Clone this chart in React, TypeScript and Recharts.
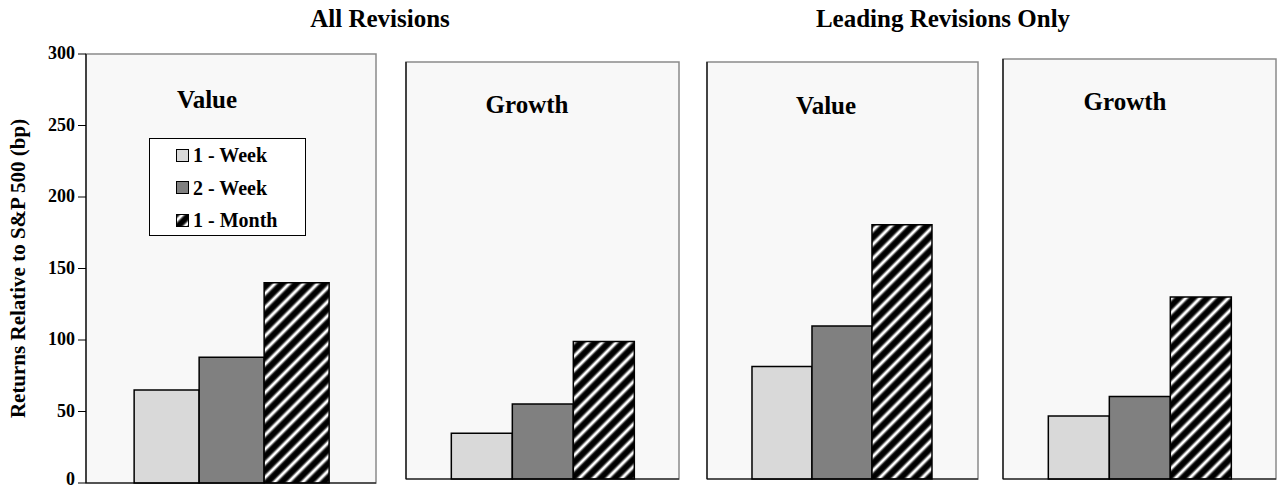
import { Bar, BarChart, CartesianGrid, Legend, ReferenceArea, XAxis, YAxis } from "recharts";

// Excess returns (bp) after estimate revisions, one small chart per style.
const SERIES = ["1 - Week", "2 - Week", "1 - Month"];
const ALL_VALUE = [65, 88, 140];
const ALL_GROWTH = [33, 54, 99];
const LEADING_VALUE = [81, 110, 183];
const LEADING_GROWTH = [45, 59, 130];
const Y_TICKS = [0, 50, 100, 150, 200, 250, 300];
const Y_LABEL = "Returns Relative to S&P 500 (bp)";

const FONT = "'Liberation Serif', 'Times New Roman', serif";
const KEYS = ["w1", "w2", "m1"];
const FILLS = ["#d9d9d9", "#808080"];
const H = 489;

function Hatch({ id }: { id: string }) {
  return (
    <defs>
      <linearGradient id={`${id}-g`} x1="0" x2="1" y1="0" y2="0">
        <stop offset="0" stopColor="#000" />
        <stop offset="0.22" stopColor="#000" />
        <stop offset="0.45" stopColor="#fff" />
        <stop offset="0.55" stopColor="#fff" />
        <stop offset="0.78" stopColor="#000" />
        <stop offset="1" stopColor="#000" />
      </linearGradient>
      <pattern
        id={id}
        patternUnits="userSpaceOnUse"
        width={10}
        height={10}
        patternTransform="rotate(45)"
      >
        <rect width={10} height={10} fill={`url(#${id}-g)`} />
      </pattern>
    </defs>
  );
}

function AxisTitle({ viewBox }: any) {
  const x = 18;
  const y = viewBox.y + viewBox.height / 2;
  return (
    <text
      x={x}
      y={y}
      transform={`rotate(-90 ${x} ${y})`}
      textAnchor="middle"
      dominantBaseline="central"
      fontFamily={FONT}
      fontWeight="bold"
      fontSize={21}
      fill="#000"
    >
      {Y_LABEL}
    </text>
  );
}

// the bottom "0" is nudged up so it stays inside the svg
function ValueTick({ x, y, payload }: any) {
  return (
    <text
      x={x}
      y={y}
      dy={payload.value === 0 ? 2 : 5}
      textAnchor="end"
      fontFamily={FONT}
      fontWeight="bold"
      fontSize={18}
      fill="#000"
    >
      {payload.value}
    </text>
  );
}

function LegendBox({ hatchId }: { hatchId: string }) {
  return (
    <div
      style={{
        boxSizing: "border-box",
        width: 157,
        height: 98,
        border: "1px solid #000",
        background: "#fff",
        paddingLeft: 26,
        fontFamily: FONT,
        fontWeight: "bold",
        fontSize: 20,
        lineHeight: "20px",
      }}
    >
      {SERIES.map((s, i) => (
        <div key={s} style={{ display: "flex", alignItems: "center", height: 32.5 }}>
          <svg width={13} height={13} style={{ marginRight: 4 }}>
            <rect
              x={0.5}
              y={0.5}
              width={12}
              height={12}
              fill={i < 2 ? FILLS[i] : `url(#${hatchId})`}
              stroke="#000"
            />
          </svg>
          <span>{s}</span>
        </div>
      ))}
    </div>
  );
}

type PanelProps = {
  id: string;
  values: number[];
  left: number;
  width: number;
  margin: { top: number; right: number; bottom: number; left: number };
  withAxis?: boolean;
  withLegend?: boolean;
};

function Panel({ id, values, left, width, margin, withAxis, withLegend }: PanelProps) {
  const row: Record<string, string | number> = { name: "" };
  KEYS.forEach((k, i) => (row[k] = values[i]));
  const hatchId = `hatch-${id}`;

  return (
    <div style={{ position: "absolute", left, top: 0 }}>
      <BarChart
        width={width}
        height={H}
        data={[row]}
        margin={margin}
        barGap={0}
        barCategoryGap="16.6%"
      >
        <Hatch id={hatchId} />
        <CartesianGrid horizontal={false} vertical={false} fill="#f8f8f8" fillOpacity={1} />
        <ReferenceArea
          y1={0}
          y2={300}
          fill="none"
          fillOpacity={0}
          stroke="#8a8a8a"
          strokeWidth={1.5}
          ifOverflow="visible"
        />
        <XAxis
          dataKey="name"
          height={1}
          tick={false}
          tickLine={false}
          axisLine={{ stroke: "#000", strokeWidth: 1.2 }}
        />
        <YAxis
          domain={[0, 300]}
          ticks={Y_TICKS}
          interval={0}
          width={withAxis ? 86 : 1}
          tick={withAxis ? <ValueTick /> : false}
          tickLine={withAxis ? { stroke: "#000" } : false}
          tickSize={8}
          tickMargin={3}
          axisLine={{ stroke: "#000", strokeWidth: 1.2 }}
          label={withAxis ? <AxisTitle /> : undefined}
        />
        {KEYS.map((k, i) => (
          <Bar
            key={k}
            dataKey={k}
            name={SERIES[i]}
            fill={i < 2 ? FILLS[i] : `url(#${hatchId})`}
            stroke="#000"
            strokeWidth={1.5}
            isAnimationActive={false}
          />
        ))}
        {withLegend && (
          <Legend
            layout="horizontal"
            verticalAlign="middle"
            align="center"
            wrapperStyle={{ left: 149, top: 138, width: 157, height: 98 }}
            content={() => <LegendBox hatchId={hatchId} />}
          />
        )}
      </BarChart>
    </div>
  );
}

const textStyle = {
  fontFamily: FONT,
  fontWeight: "bold" as const,
  fontSize: 25,
  fill: "#000",
};

export default function App() {
  return (
    <div
      style={{
        position: "absolute",
        left: 0,
        top: 0,
        width: 1277,
        height: H,
        background: "#fff",
      }}
    >
      <Panel
        id="p1"
        values={ALL_VALUE}
        left={0}
        width={380}
        margin={{ top: 54, right: 4, bottom: 5, left: 0 }}
        withAxis
        withLegend
      />
      <Panel
        id="p2"
        values={ALL_GROWTH}
        left={400}
        width={285}
        margin={{ top: 62, right: 6, bottom: 9, left: 5 }}
      />
      <Panel
        id="p3"
        values={LEADING_VALUE}
        left={700}
        width={285}
        margin={{ top: 62, right: 7, bottom: 9, left: 6 }}
      />
      <Panel
        id="p4"
        values={LEADING_GROWTH}
        left={996}
        width={281}
        margin={{ top: 59, right: 1, bottom: 9, left: 6 }}
      />
      <svg
        width={1277}
        height={H}
        style={{ position: "absolute", left: 0, top: 0, pointerEvents: "none" }}
      >
        <text x={380} y={27} textAnchor="middle" {...textStyle}>
          All Revisions
        </text>
        <text x={943} y={27} textAnchor="middle" {...textStyle}>
          Leading Revisions Only
        </text>
        <text x={207} y={108} textAnchor="middle" {...textStyle}>
          Value
        </text>
        <text x={527} y={113} textAnchor="middle" {...textStyle}>
          Growth
        </text>
        <text x={826} y={114} textAnchor="middle" {...textStyle}>
          Value
        </text>
        <text x={1125} y={110} textAnchor="middle" {...textStyle}>
          Growth
        </text>
      </svg>
    </div>
  );
}
